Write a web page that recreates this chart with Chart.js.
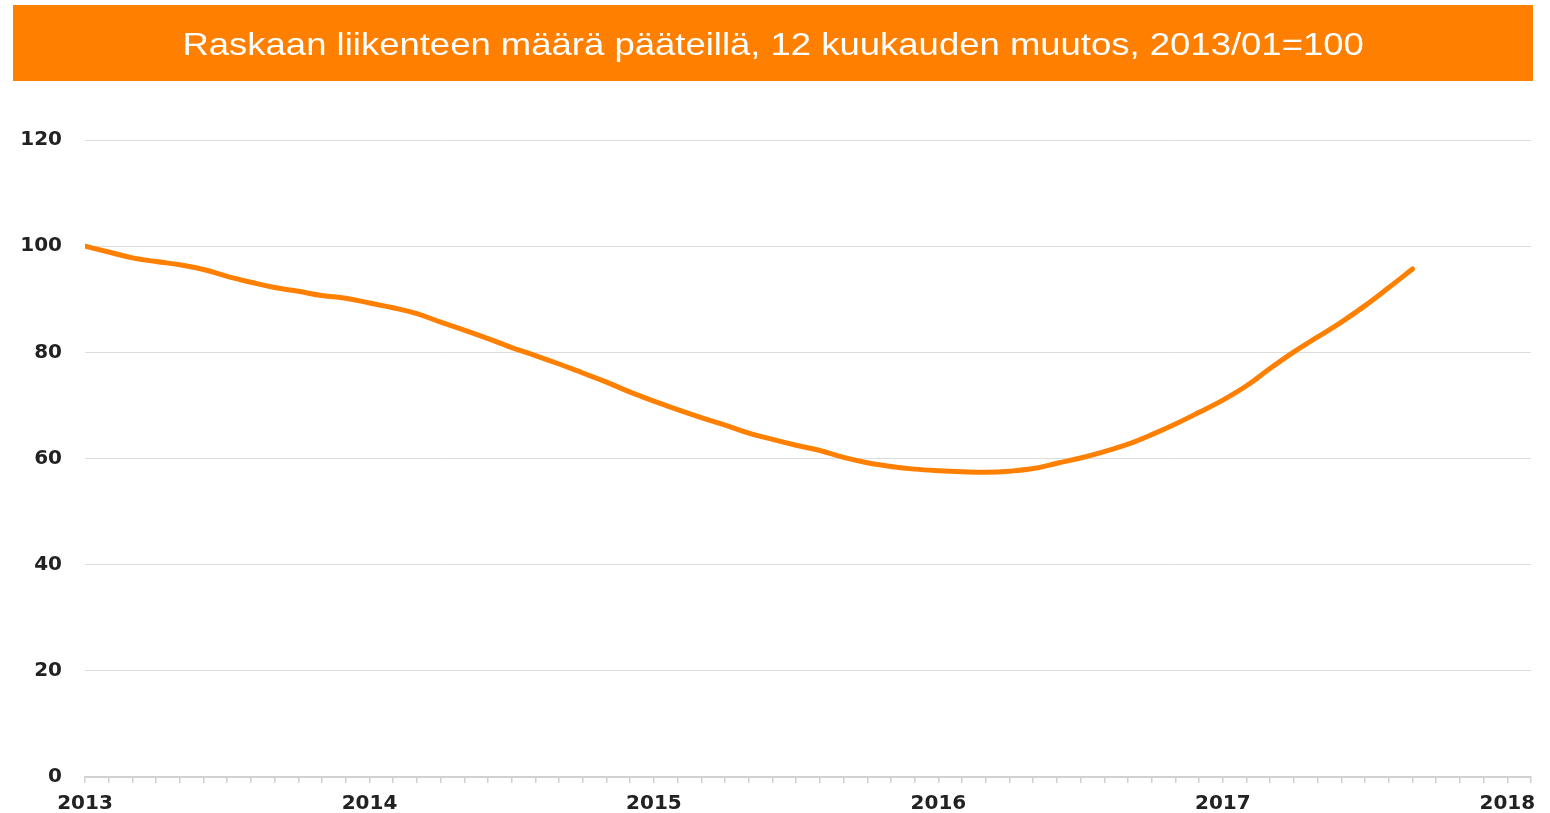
<!DOCTYPE html>
<html>
<head>
<meta charset="utf-8">
<script src="https://cdn.jsdelivr.net/npm/chart.js@4"></script>
<style>
  html, body { margin: 0; padding: 0; background: #fff; }
  #wrap { position: relative; width: 1550px; height: 813px; overflow: hidden; }
  #banner {
    position: absolute; left: 13px; top: 5px; width: 1520px; height: 76px;
    background: #ff8000; color: #fff; text-align: center;
    font-family: "Liberation Sans", Arial, sans-serif; font-size: 32px; line-height: 78px;
  }
  #banner span { display: inline-block; transform: scaleX(1.14); }
  #chart { position: absolute; left: 0; top: 0; }
</style>
</head>
<body>
<div id="wrap">
  <canvas id="chart" width="1550" height="813"></canvas>
  <div id="banner"><span>Raskaan liikenteen määrä pääteillä, 12 kuukauden muutos, 2013/01=100</span></div>
</div>
<script>
// x-axis year labels (one every 12 months, 2013/01 .. 2018/01), axis runs to 2018/02
const years = ['2013', '2014', '2015', '2016', '2017', '2018'];
const yTicks = [0, 20, 40, 60, 80, 100, 120];

// index, monthly from 2013/01 to 2017/09
const index2013 = [100.0, 98.9, 97.8, 97.1, 96.5, 95.6, 94.3, 93.2, 92.2, 91.5, 90.7, 90.2];
const index2014 = [89.3, 88.4, 87.3, 85.7, 84.2, 82.6, 80.9, 79.4, 77.8, 76.1, 74.4, 72.5];
const index2015 = [70.8, 69.2, 67.7, 66.3, 64.8, 63.6, 62.5, 61.5, 60.2, 59.2, 58.5, 58.0];
const index2016 = [57.7, 57.5, 57.4, 57.6, 58.1, 59.1, 60.1, 61.3, 62.7, 64.5, 66.5, 68.7];
const index2017 = [71.0, 73.7, 77.0, 80.1, 82.9, 85.7, 88.8, 92.2, 95.7];

const values = [].concat(index2013, index2014, index2015, index2016, index2017);
const points = values.map((v, i) => ({ x: i, y: v }));

const tickFont = { family: '"DejaVu Sans", Arial, sans-serif', size: 20, weight: 'bold' };

new Chart(document.getElementById('chart').getContext('2d'), {
    type: 'line',
    data: {
        datasets: [{
            data: points,
            borderColor: '#ff8000',
            borderWidth: 5,
            borderCapStyle: 'round',
            borderJoinStyle: 'round',
            pointRadius: 0,
            tension: 0.4,
            fill: false
        }]
    },
    options: {
        responsive: false,
        animation: false,
        layout: { padding: { top: 140, right: 19, bottom: 0, left: 0 } },
        plugins: {
            legend: { display: false },
            tooltip: { enabled: false }
        },
        scales: {
            x: {
                type: 'linear',
                min: 0,
                max: 61,
                afterFit: (scale) => {
                    scale.height = 36;
                    scale.paddingLeft = 0;
                    scale.paddingRight = 0;
                },
                afterBuildTicks: (scale) => {
                    scale.ticks = [];
                    for (let m = 0; m <= 61; m++) scale.ticks.push({ value: m });
                },
                ticks: {
                    autoSkip: false,
                    maxRotation: 0,
                    padding: 9,
                    color: '#222',
                    font: tickFont,
                    callback: (v) => (v % 12 === 0 ? years[v / 12] : '')
                },
                grid: {
                    drawOnChartArea: false,
                    drawTicks: true,
                    tickLength: 6,
                    color: '#d0d0d0',
                    lineWidth: 1.5
                },
                border: { display: true, color: '#d0d0d0', width: 2 }
            },
            y: {
                min: 0,
                max: 120,
                afterFit: (scale) => { scale.width = 85; },
                afterBuildTicks: (scale) => {
                    scale.ticks = yTicks.map(v => ({ value: v }));
                },
                ticks: {
                    padding: 23,
                    color: '#222',
                    font: tickFont
                },
                grid: { drawTicks: false, color: '#dcdcdc', lineWidth: 1 },
                border: { display: false }
            }
        }
    }
});
</script>
</body>
</html>
